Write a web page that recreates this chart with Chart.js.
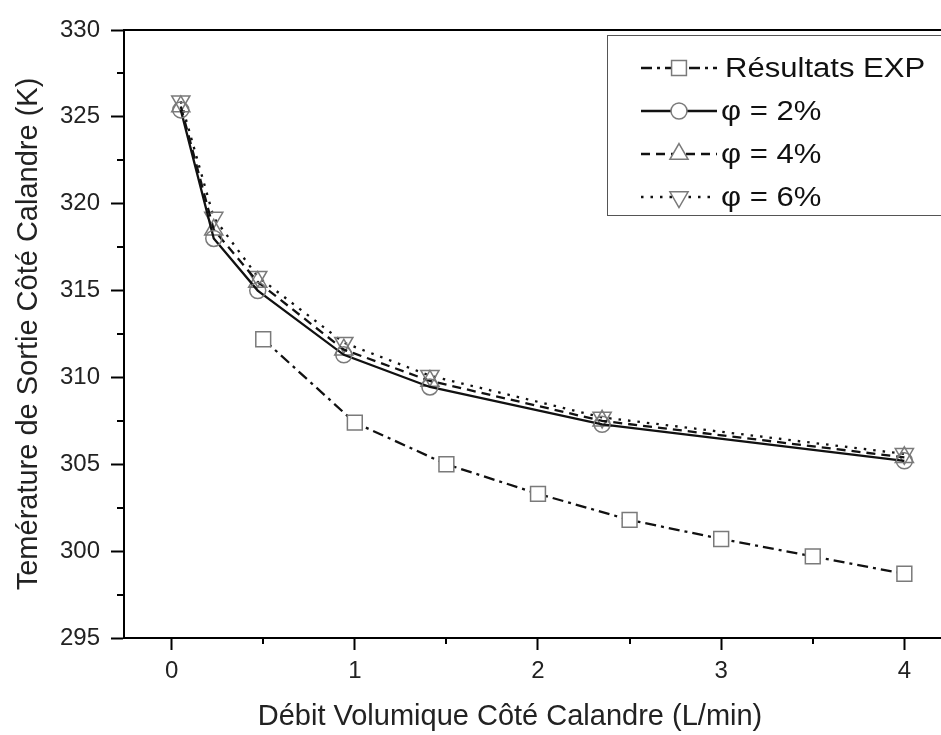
<!DOCTYPE html>
<html>
<head>
<meta charset="utf-8">
<script src="https://cdn.jsdelivr.net/npm/chart.js@4.4.0/dist/chart.umd.min.js"></script>
<style>
  html, body { margin: 0; padding: 0; background: #fff; }
  canvas { display: block; }
</style>
</head>
<body>
<canvas id="chart" width="941" height="735"></canvas>
<script>
// values
const expFlow = [0.5, 1, 1.5, 2, 2.5, 3, 3.5, 4];
const expTemp = [312.2, 307.4, 305.0, 303.3, 301.8, 300.7, 299.7, 298.7];

const modelFlow = [0.05, 0.23, 0.47, 0.94, 1.41, 2.35, 4.0];
const phi2Temp = [325.4, 318.0, 315.0, 311.3, 309.45, 307.3, 305.2];
const phi4Temp = [325.6, 318.5, 315.5, 311.6, 309.8, 307.5, 305.4];
const phi6Temp = [325.9, 319.2, 315.8, 312.0, 310.1, 307.7, 305.6];

const xTicks = [0, 0.5, 1, 1.5, 2, 2.5, 3, 3.5, 4];
const yTicks = [295, 297.5, 300, 302.5, 305, 307.5, 310, 312.5, 315, 317.5, 320, 322.5, 325, 327.5, 330];

const xTitle = "Débit Volumique Côté Calandre (L/min)";
const yTitle = "Temérature de Sortie Côté Calandre (K)";

const pts = (xs, ys) => xs.map((x, i) => ({ x: x, y: ys[i] }));

const fontFamily = "'Liberation Sans', Arial, sans-serif";
const markerGray = "#7a7a7a";

const isMajorX = (v) => Number.isInteger(v);
const isMajorY = (v) => v % 5 === 0;

// frame top line, short minor ticks, x title, and hand drawn legend (line + marker per entry)
const extras = {
  id: "extras",
  afterDraw(chart) {
    const ctx = chart.ctx;
    const area = chart.chartArea;
    const xs = chart.scales.x;
    const ys = chart.scales.y;
    ctx.save();
    ctx.strokeStyle = "#000";
    ctx.lineWidth = 2;
    ctx.beginPath();
    ctx.moveTo(area.left, area.top);
    ctx.lineTo(chart.width, area.top);
    // minor ticks
    xTicks.filter((v) => !isMajorX(v)).forEach((v) => {
      const px = Math.round(xs.getPixelForValue(v));
      ctx.moveTo(px, area.bottom);
      ctx.lineTo(px, area.bottom + 6);
    });
    yTicks.filter((v) => !isMajorY(v)).forEach((v) => {
      const py = Math.round(ys.getPixelForValue(v));
      ctx.moveTo(area.left, py);
      ctx.lineTo(area.left - 7, py);
    });
    ctx.stroke();

    // x axis title, centred under the visible part of the original axis
    ctx.fillStyle = "#222";
    ctx.font = "29px " + fontFamily;
    ctx.textAlign = "center";
    ctx.textBaseline = "middle";
    ctx.fillText(xTitle, 510, 717);

    ctx.strokeStyle = "#555";
    ctx.lineWidth = 1;
    ctx.strokeRect(607.5, 35.5, 400, 180);

    chart.data.datasets.forEach((ds, i) => {
      const y = 68 + i * 43;
      ctx.setLineDash(ds.borderDash || []);
      ctx.lineWidth = ds.borderWidth;
      ctx.strokeStyle = ds.borderColor;
      ctx.beginPath();
      ctx.moveTo(641, y);
      ctx.lineTo(717, y);
      ctx.stroke();
      ctx.setLineDash([]);
      ctx.fillStyle = "#fff";
      ctx.strokeStyle = markerGray;
      ctx.lineWidth = ds.pointBorderWidth;
      Chart.helpers.drawPoint(ctx, {
        pointStyle: ds.pointStyle,
        rotation: ds.pointRotation || 0,
        radius: ds.pointRadius,
        borderWidth: ds.pointBorderWidth
      }, 679, y);
      // legend text is a bit wider than plain Arial in the original
      ctx.save();
      ctx.translate(ds.label.startsWith("R") ? 725 : 721, y + 2);
      ctx.scale(1.15, 1);
      ctx.fillStyle = "#111";
      ctx.font = "27px " + fontFamily;
      ctx.textBaseline = "middle";
      ctx.textAlign = "left";
      ctx.fillText(ds.label, 0, 0);
      ctx.restore();
    });
    ctx.restore();
  }
};

new Chart(document.getElementById("chart"), {
  type: "scatter",
  data: {
    datasets: [
      {
        label: "Résultats EXP",
        data: pts(expFlow, expTemp),
        showLine: true,
        borderColor: "#111",
        borderWidth: 2.3,
        borderDash: [11, 5, 3, 5],
        pointStyle: "rect",
        pointRadius: 10.5,
        pointBorderWidth: 1.5,
        pointBorderColor: markerGray,
        pointBackgroundColor: "#fff"
      },
      {
        label: "φ = 2%",
        data: pts(modelFlow, phi2Temp),
        showLine: true,
        borderColor: "#111",
        borderWidth: 2.3,
        pointStyle: "circle",
        pointRadius: 8,
        pointBorderWidth: 1.5,
        pointBorderColor: markerGray,
        pointBackgroundColor: "rgba(255,255,255,0)"
      },
      {
        label: "φ = 4%",
        data: pts(modelFlow, phi4Temp),
        showLine: true,
        borderColor: "#111",
        borderWidth: 2.3,
        borderDash: [9, 6],
        pointStyle: "triangle",
        pointRadius: 10.5,
        pointBorderWidth: 1.5,
        pointBorderColor: markerGray,
        pointBackgroundColor: "rgba(255,255,255,0)"
      },
      {
        label: "φ = 6%",
        data: pts(modelFlow, phi6Temp),
        showLine: true,
        borderColor: "#111",
        borderWidth: 2.3,
        borderDash: [2.5, 7],
        pointStyle: "triangle",
        pointRotation: 180,
        pointRadius: 10.5,
        pointBorderWidth: 1.5,
        pointBorderColor: markerGray,
        pointBackgroundColor: "rgba(255,255,255,0)"
      }
    ]
  },
  options: {
    responsive: false,
    animation: false,
    layout: { autoPadding: false, padding: { top: 30, right: 0, left: 0, bottom: 0 } },
    plugins: { legend: { display: false }, tooltip: { enabled: false } },
    elements: { line: { tension: 0 } },
    scales: {
      x: {
        type: "linear",
        min: -0.26,
        max: 4.2,
        afterBuildTicks: (scale) => { scale.ticks = xTicks.map((v) => ({ value: v })); },
        afterFit: (scale) => {
          scale.height = 97;
          scale.paddingLeft = 0;
          scale.paddingRight = 0;
        },
        border: { color: "#000", width: 2 },
        grid: {
          drawOnChartArea: false,
          drawTicks: true,
          tickLength: 12,
          tickWidth: 2,
          tickColor: (c) => (c.tick && isMajorX(c.tick.value) ? "#000" : "rgba(0,0,0,0)")
        },
        ticks: {
          autoSkip: false,
          maxRotation: 0,
          padding: 7,
          color: "#222",
          font: { family: fontFamily, size: 24 },
          callback: (v) => (isMajorX(v) ? v : "")
        },
        title: { display: false }
      },
      y: {
        type: "linear",
        min: 295,
        max: 330,
        afterBuildTicks: (scale) => { scale.ticks = yTicks.map((v) => ({ value: v })); },
        afterFit: (scale) => { scale.width = 124; },
        border: { color: "#000", width: 2 },
        grid: {
          drawOnChartArea: false,
          drawTicks: true,
          tickLength: 13,
          tickWidth: 2,
          tickColor: (c) => (c.tick && isMajorY(c.tick.value) ? "#000" : "rgba(0,0,0,0)")
        },
        ticks: {
          autoSkip: false,
          padding: 11,
          color: "#222",
          font: { family: fontFamily, size: 24 },
          callback: (v) => (isMajorY(v) ? v : "")
        },
        title: {
          display: true,
          text: yTitle,
          color: "#222",
          font: { family: fontFamily, size: 29 },
          padding: { top: 12, bottom: 0 }
        }
      }
    }
  },
  plugins: [extras]
});
</script>
</body>
</html>
